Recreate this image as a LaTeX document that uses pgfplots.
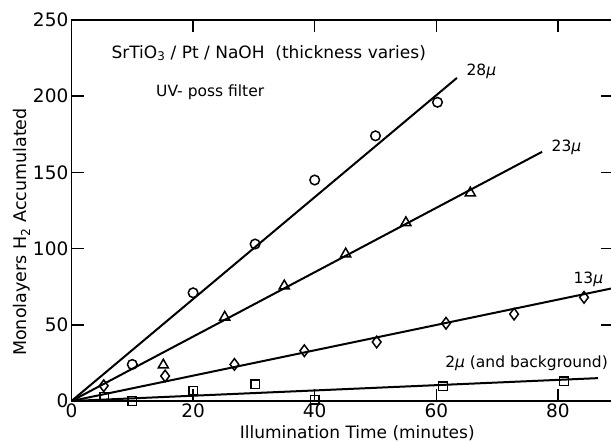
\documentclass[border=0pt]{standalone}
\usepackage{pgfplots}
\pgfplotsset{compat=1.18}
\usepackage{fontspec}
\setmainfont{DejaVu Sans}
\newcommand{\mum}{{\itshape µ}}
\begin{document}
\begin{tikzpicture}[x=1pt,y=1pt]
\useasboundingbox (0,0) rectangle (611,442);
\begin{axis}[
  at={(71.5pt,41pt)}, anchor=south west,
  scale only axis, width=541.1pt, height=381pt,
  xmin=0, xmax=89, ymin=0, ymax=250,
  xtick={0,20,40,60,80}, ytick={0,50,100,150,200,250},
  clip=false,
  axis line style={line width=1.8pt},
  every tick/.style={line width=1.5pt, black},
  major tick length=12pt,
  /pgf/number format/assume math mode=true,
  ticklabel style={font=\fontsize{18.5}{18.5}\selectfont},
  xticklabel style={inner sep=0pt, yshift=-3pt},
  yticklabel style={inner sep=0pt, xshift=-3pt},
  mk/.style={only marks, black, mark size=4.8pt,
     every mark/.append style={line width=1.5pt, fill=white, solid}},
  ln/.style={no marks, line width=2pt, black},
]
% fitted lines
\addplot[ln] coordinates {(0,0) (63.4,212)};
\addplot[ln] coordinates {(0,0) (77.4,163.5)};
\addplot[ln] coordinates {(0,0) (89,74)};
\addplot[ln] coordinates {(0,0) (86.6,15)};
% 28 micron: circles
\addplot[mk, mark=o] coordinates {
 (10,24) (20,71) (30.2,103) (40,145) (50,174) (60.2,196)};
% 23 micron: triangles
\addplot[mk, mark=triangle, mark size=5.8pt] coordinates {
 (15.1,23.6) (25.2,55) (35,75.5) (45.1,96.5) (55,117) (65.6,136.5)};
% 13 micron: diamonds
\addplot[mk, mark=diamond, mark size=5.8pt] coordinates {
 (5.3,10) (15.4,16.4) (26.8,24) (38.3,33) (50.2,38.7) (61.6,51) (72.8,57) (84.3,68)};
% 2 micron: squares
\addplot[mk, mark=square, mark size=4.3pt] coordinates {
 (5.4,2.6) (10,0) (20,6.6) (30.2,11) (40,0.7) (61.1,9.8) (81,13)};
% labels
\node[anchor=base west, font=\fontsize{17}{17}\selectfont] at (axis cs:6,225)
  {SrTiO\textsubscript{3} / Pt / NaOH \ (thickness varies)};
\node[anchor=base west, font=\fontsize{15.5}{15.5}\selectfont] at (axis cs:13.35,199.5) {UV- poss filter};
\node[anchor=base west, font=\fontsize{15.5}{15.5}\selectfont] at (axis cs:64.4,213.3) {28\mum};
\node[anchor=base west, font=\fontsize{15.5}{15.5}\selectfont] at (axis cs:78.4,163.4) {23\mum};
\node[anchor=base west, font=\fontsize{15.5}{15.5}\selectfont] at (axis cs:82,77.4) {13\mum};
\node[anchor=base west, font=\fontsize{15.5}{15.5}\selectfont] at (axis cs:60.9,21.7) {2\mum\ (and background)};
\node[anchor=base, font=\fontsize{17}{17}\selectfont] at (axis cs:47,-24.9) {Illumination Time (minutes)};
\node[anchor=base, rotate=90, font=\fontsize{17.5}{17.5}\selectfont] at (axis cs:-7.32,110.9) {Monolayers H\textsubscript{2} Accumulated};
\end{axis}
\end{tikzpicture}
\end{document}
